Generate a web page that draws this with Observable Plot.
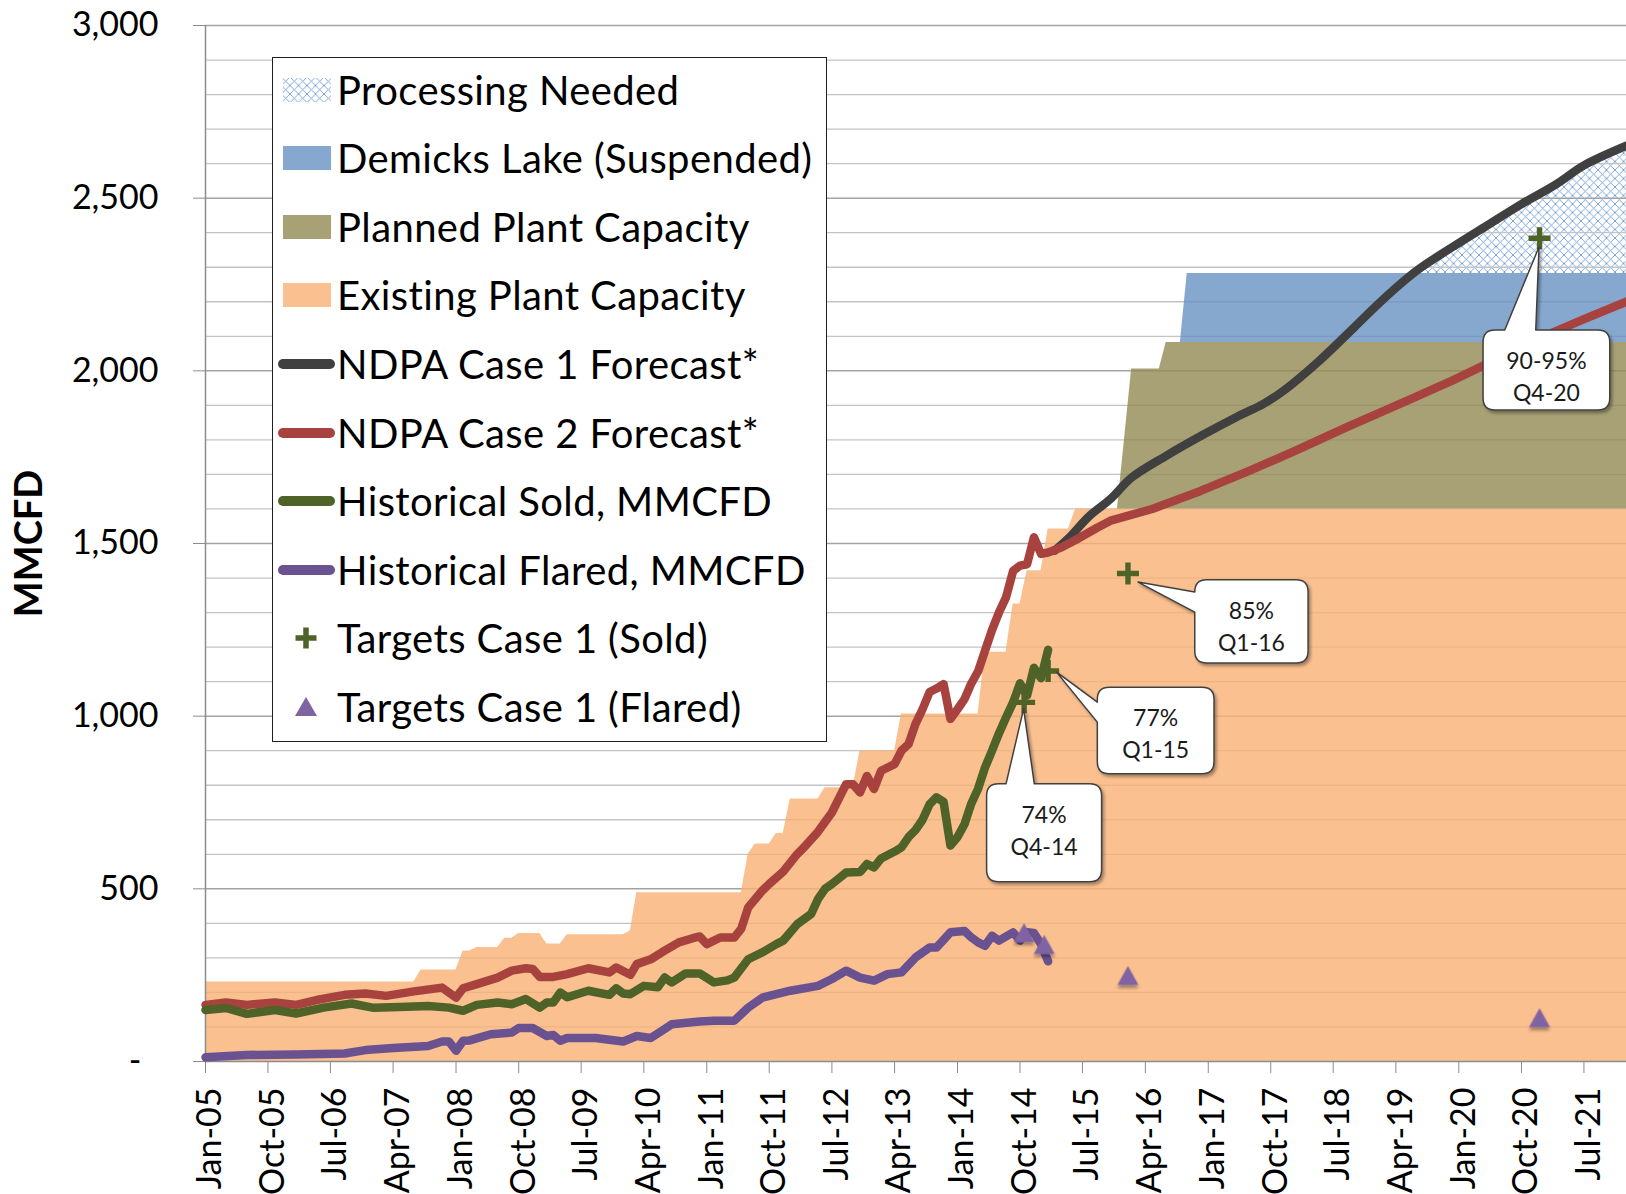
<!DOCTYPE html>
<html>
<head>
<meta charset="utf-8">
<script src="https://cdn.jsdelivr.net/npm/d3@7"></script>
<script src="https://cdn.jsdelivr.net/npm/@observablehq/plot@0.6"></script>
<style>
  html, body { margin: 0; padding: 0; background: #fff; }
  #wrap { position: relative; width: 1626px; height: 1194px; overflow: hidden; font-family: Lato, "Open Sans", sans-serif; }
  #wrap > svg { position: absolute; left: 0; top: 0; }
  #legend { position: absolute; left: 272px; top: 57px; width: 555px; height: 685px; box-sizing: border-box; border: 1.5px solid #1f1f1f; background: #fff; }
  .lrow { position: absolute; left: 0; width: 550px; height: 60px; }
  .lrow svg { position: absolute; left: 0; top: 0; }
  .lrow span { position: absolute; left: 64px; top: 0; white-space: nowrap; font-size: 40px; letter-spacing: 0.4px; color: #000; line-height: 60px; }
</style>
</head>
<body>
<div id="wrap"></div>
<script>
// ---------------- DATA ----------------
// NDPA Case 2 (history of total gas + Case 2 forecast), MMCFD
const case2Forecast = [
  ["2005-01",164],["2005-04",171],["2005-07",164],["2005-11",171],["2006-02",164],["2006-05",178],
  ["2006-09",193],["2006-12",197],["2007-03",190],["2007-07",203],["2007-11",214],["2008-01",185],
  ["2008-02",212],["2008-04",224],["2008-07",243],["2008-09",263],["2008-11",270],["2008-12",268],
  ["2009-01",245],["2009-03",245],["2009-05",253],["2009-08",270],["2009-11",258],["2009-12",272],
  ["2010-02",251],["2010-03",282],["2010-05",296],["2010-07",321],["2010-09",345],["2010-11",357],
  ["2010-12",362],["2011-01",340],["2011-03",359],["2011-05",359],["2011-06",385],["2011-07",446],
  ["2011-09",495],["2011-10",514],["2011-12",550],["2012-02",601],["2012-03",620],["2012-05",665],
  ["2012-07",721],["2012-09",803],["2012-10",803],["2012-11",779],["2012-12",827],["2013-01",789],
  ["2013-02",842],["2013-04",861],["2013-05",900],["2013-06",919],["2013-07",977],["2013-08",1020],
  ["2013-09",1070],["2013-10",1080],["2013-11",1093],["2013-12",992],["2014-01",1020],["2014-02",1050],
  ["2014-03",1093],["2014-04",1130],["2014-05",1189],["2014-06",1250],["2014-07",1300],["2014-08",1344],
  ["2014-09",1421],["2014-10",1436],["2014-11",1440],["2014-12",1518],["2015-01",1470],["2015-02",1474],
  ["2015-04",1489],["2015-06",1510],["2015-09",1545],["2015-11",1566],["2016-05",1600],["2016-12",1653],
  ["2017-07",1711],["2018-02",1773],["2018-09",1838],["2019-05",1908],["2019-12",1971],["2020-07",2039],
  ["2021-02",2107],["2021-07",2150],["2022-02",2208]
];
// NDPA Case 1 forecast, MMCFD
const case1Forecast = [
  ["2015-03",1479],["2015-05",1515],["2015-08",1580],["2015-11",1629],["2016-02",1691],["2016-07",1754],
  ["2016-12",1812],["2017-05",1865],["2017-09",1905],["2017-12",1945],["2018-05",2029],["2018-10",2126],
  ["2019-02",2205],["2019-07",2290],["2019-12",2357],["2020-05",2420],["2020-10",2483],["2021-03",2540],
  ["2021-07",2595],["2022-02",2660]
];
// Historical sold, MMCFD
const historicalSold = [
  ["2005-01",149],["2005-04",155],["2005-07",138],["2005-11",149],["2006-02",139],["2006-06",156],
  ["2006-10",168],["2007-01",156],["2007-05",158],["2007-09",161],["2007-12",156],["2008-02",147],
  ["2008-04",164],["2008-07",171],["2008-09",166],["2008-11",181],["2009-01",156],["2009-02",171],
  ["2009-03",171],["2009-04",200],["2009-05",186],["2009-08",205],["2009-11",193],["2009-12",212],
  ["2010-01",197],["2010-02",195],["2010-04",219],["2010-06",215],["2010-07",243],["2010-08",229],
  ["2010-10",255],["2010-12",255],["2011-02",229],["2011-04",235],["2011-05",243],["2011-07",296],
  ["2011-09",316],["2011-11",340],["2011-12",350],["2012-02",398],["2012-04",427],["2012-05",470],
  ["2012-06",500],["2012-07",514],["2012-09",547],["2012-11",549],["2012-12",572],["2013-01",562],
  ["2013-02",588],["2013-04",608],["2013-05",620],["2013-06",650],["2013-07",670],["2013-08",700],
  ["2013-09",745],["2013-10",765],["2013-11",752],["2013-12",625],["2014-01",650],["2014-02",688],
  ["2014-03",745],["2014-04",790],["2014-05",851],["2014-06",900],["2014-07",950],["2014-08",996],
  ["2014-09",1040],["2014-10",1095],["2014-11",1060],["2014-12",1140],["2015-01",1110],["2015-02",1192]
];
// Historical flared, MMCFD
const historicalFlared = [
  ["2005-01",12],["2005-07",19],["2006-02",20],["2006-09",23],["2006-12",33],["2007-04",39],
  ["2007-09",45],["2007-11",58],["2007-12",58],["2008-01",31],["2008-02",60],["2008-03",61],
  ["2008-06",79],["2008-09",84],["2008-10",97],["2008-12",97],["2009-02",74],["2009-03",77],
  ["2009-04",60],["2009-05",68],["2009-09",68],["2010-01",58],["2010-03",74],["2010-05",68],
  ["2010-07",94],["2010-08",108],["2010-12",116],["2011-02",118],["2011-05",118],["2011-07",156],
  ["2011-09",185],["2012-01",205],["2012-05",219],["2012-07",239],["2012-09",263],["2012-11",243],
  ["2013-01",234],["2013-03",253],["2013-05",258],["2013-07",301],["2013-09",330],["2013-10",330],
  ["2013-12",374],["2014-02",378],["2014-03",360],["2014-04",345],["2014-05",335],["2014-06",364],
  ["2014-07",350],["2014-09",374],["2014-10",350],["2014-11",374],["2014-12",372],["2015-01",340],
  ["2015-02",290]
];
// Plant capacity (stacked areas), MMCFD
const capacityMonths = ["2005-01","2007-07","2007-08","2008-01","2008-02","2008-03","2008-04","2008-07","2008-08",
  "2008-09","2008-10","2009-01","2009-02","2009-04","2009-05","2010-01","2010-02","2010-03","2011-06","2011-07",
  "2011-08","2011-10","2011-11","2011-12","2012-01","2012-05","2012-06","2012-10","2012-11","2013-04","2013-05",
  "2014-04","2014-05","2014-08","2014-09","2014-10","2014-11","2015-01","2015-02","2015-05","2015-06","2015-12",
  "2016-02","2016-06","2016-07","2016-09","2016-10","2022-02"];
const existingCapacity = [230,230,265,265,320,320,330,330,357,357,371,371,340,340,367,367,378,489,489,600,
  630,630,660,660,760,760,793,793,900,900,1006,1006,1185,1185,1325,1325,1421,1421,1542,1542,1600,1600,
  1600,1600,1600,1600,1600,1600];
const plannedCapacity = [0,0,0,0,0,0,0,0,0,0,0,0,0,0,0,0,0,0,0,0,0,0,0,0,0,0,0,0,0,0,0,0,0,0,0,0,0,0,0,0,0,0,
  405,405,482,482,482,482];
const demicksCapacity = [0,0,0,0,0,0,0,0,0,0,0,0,0,0,0,0,0,0,0,0,0,0,0,0,0,0,0,0,0,0,0,0,0,0,0,0,0,0,0,0,0,0,
  0,0,0,0,200,200];
// Targets (Case 1)
const soldTargetDates = ["2014-10-19","2015-02-01","2016-01-16","2020-12-19"];
const soldTargetValues = [1040,1131,1413,2384];
const flaredTargetDates = ["2014-10-19","2015-01-15","2016-01-16","2020-12-19"];
const flaredTargetValues = [364,330,240,118];
const calloutLines = [["74%","Q4-14"],["77%","Q1-15"],["85%","Q1-16"],["90-95%","Q4-20"]];
// Axes
const xTickLabels = ["Jan-05","Oct-05","Jul-06","Apr-07","Jan-08","Oct-08","Jul-09","Apr-10","Jan-11","Oct-11",
  "Jul-12","Apr-13","Jan-14","Oct-14","Jul-15","Apr-16","Jan-17","Oct-17","Jul-18","Apr-19","Jan-20","Oct-20","Jul-21"];
const yTickValues = [0,500,1000,1500,2000,2500,3000];
const yTickLabels = ["-\u2002","500","1,000","1,500","2,000","2,500","3,000"];
const yMinorGrid = [100,200,300,400,600,700,800,900,1100,1200,1300,1400,1600,1700,1800,1900,2100,2200,2300,2400,2600,2700,2800,2900];
const yAxisTitle = "MMCFD";
const legendLabels = ["Processing Needed","Demicks Lake (Suspended)","Planned Plant Capacity","Existing Plant Capacity",
  "NDPA Case 1 Forecast*","NDPA Case 2 Forecast*","Historical Sold, MMCFD","Historical Flared, MMCFD",
  "Targets Case 1 (Sold)","Targets Case 1 (Flared)"];

// ---------------- STYLE ----------------
const C = {
  orange: "#f9b074", olive: "#918952", blue: "#6892c3", areaOpacity: 0.8,
  case1: "#404040", case2: "#a8423e", sold: "#4f6228", flared: "#6a5190", flaredTarget: "#8064a2",
  hatch: "#6f9ad6", axis: "#8c8c8c", hatchSentinel: "#fffffe"
};
// callout placement (pixel offsets relative to the target point)
const calloutLayout = [
  {side: "top",  box: [-37, 82, 115, 98],     base: [-17.6, 10.7], tip: [0, 7]},
  {side: "left", box: [49.7, 16.7, 116.7, 86.6], base: [31.7, 51.7], tip: [9, 1.7]},
  {side: "left", box: [67.3, 6.6, 113.3, 83.4],  base: [19, 39],     tip: [10.6, 9]},
  {side: "top",  box: [-56, 92.3, 126.7, 80],  base: [-34.3, -3.3], tip: [0, 9]}
];
// custom marker shapes
const plusSymbol = {draw(ctx) {
  const a = 11, t = 2.7;
  ctx.moveTo(-a, -t); ctx.lineTo(-t, -t); ctx.lineTo(-t, -a); ctx.lineTo(t, -a); ctx.lineTo(t, -t); ctx.lineTo(a, -t);
  ctx.lineTo(a, t); ctx.lineTo(t, t); ctx.lineTo(t, a); ctx.lineTo(-t, a); ctx.lineTo(-t, t); ctx.lineTo(-a, t); ctx.closePath();
}};
const triSymbol = {draw(ctx) {
  ctx.moveTo(0, -12.5); ctx.lineTo(10.5, 6.5); ctx.lineTo(-10.5, 6.5); ctx.closePath();
}};

// ---------------- BUILD ----------------
const parseDate = s => { const p = s.split("-").map(Number); return new Date(Date.UTC(p[0], p[1] - 1, p[2] || 1)); };
const rows = pairs => pairs.map(([d, v]) => ({date: parseDate(d), value: v}));
const case2Rows = rows(case2Forecast), case1Rows = rows(case1Forecast);
const soldRows = rows(historicalSold), flaredRows = rows(historicalFlared);
const capRows = capacityMonths.map((d, i) => ({
  date: parseDate(d), existing: existingCapacity[i],
  planned: existingCapacity[i] + plannedCapacity[i],
  total: existingCapacity[i] + plannedCapacity[i] + demicksCapacity[i]
}));
const demicksStart = capRows.find(r => r.total > r.planned).date;
const demicksTop = capRows[capRows.length - 1].total;
const hatchRows = case1Rows.filter(r => r.date >= demicksStart).map(r => ({date: r.date, base: demicksTop, value: r.value}));
const soldTargets = soldTargetDates.map((d, i) => ({date: parseDate(d), value: soldTargetValues[i]}));
const flaredTargets = flaredTargetDates.map((d, i) => ({date: parseDate(d), value: flaredTargetValues[i]}));
const monthIdx = {Jan:0,Feb:1,Mar:2,Apr:3,May:4,Jun:5,Jul:6,Aug:7,Sep:8,Oct:9,Nov:10,Dec:11};
const xTickDates = xTickLabels.map(s => { const [m, y] = s.split("-"); return new Date(Date.UTC(2000 + +y, monthIdx[m], 1)); });
const xLabelMap = new Map(xTickDates.map((d, i) => [+d, xTickLabels[i]]));
const yLabelMap = new Map(yTickValues.map((v, i) => [v, yTickLabels[i]]));

const xDomain = [parseDate("2005-01"), parseDate("2022-01-03")];
const W = 1626, H = 1194, ML = 205, MR = 0, MT = 25, MB = 133;
const fallbackX = d3.scaleUtc(xDomain, [ML, W - MR]);
const fallbackY = d3.scaleLinear([0, 3000], [H - MB, MT]);

function calloutsMark(index, scales) {
  const sx = scales && typeof scales.x === "function" ? scales.x : fallbackX;
  const sy = scales && typeof scales.y === "function" ? scales.y : fallbackY;
  const g = d3.create("svg:g").attr("aria-label", "callouts");
  soldTargets.forEach((t, i) => {
    const L = calloutLayout[i];
    const px = sx(t.date), py = sy(t.value);
    const x0 = px + L.box[0], y0 = py + L.box[1], x1 = x0 + L.box[2], y1 = y0 + L.box[3];
    const tx = px + L.tip[0], ty = py + L.tip[1], r = 12;
    let d;
    if (L.side === "top") {
      const b0 = px + L.base[0], b1 = px + L.base[1];
      d = `M${x0 + r},${y0}L${b0},${y0}L${tx},${ty}L${b1},${y0}L${x1 - r},${y0}Q${x1},${y0} ${x1},${y0 + r}L${x1},${y1 - r}Q${x1},${y1} ${x1 - r},${y1}L${x0 + r},${y1}Q${x0},${y1} ${x0},${y1 - r}L${x0},${y0 + r}Q${x0},${y0} ${x0 + r},${y0}Z`;
    } else {
      const b0 = py + L.base[0], b1 = py + L.base[1];
      d = `M${x0 + r},${y0}L${x1 - r},${y0}Q${x1},${y0} ${x1},${y0 + r}L${x1},${y1 - r}Q${x1},${y1} ${x1 - r},${y1}L${x0 + r},${y1}Q${x0},${y1} ${x0},${y1 - r}L${x0},${b1}L${tx},${ty}L${x0},${b0}L${x0},${y0 + r}Q${x0},${y0} ${x0 + r},${y0}Z`;
    }
    g.append("path").attr("d", d).attr("fill", "#fff").attr("stroke", "#404040")
      .attr("stroke-width", 1.5).attr("stroke-linejoin", "round").attr("filter", "url(#calloutShadow)");
    const cx = (x0 + x1) / 2;
    calloutLines[i].forEach((line, k) => g.append("text").attr("x", cx).attr("y", y0 + 31 + 32 * k)
      .attr("dy", "0.36em").attr("text-anchor", "middle").attr("font-size", 23).attr("fill", "#1a1a1a").text(line));
  });
  return g.node();
}

const lineOpts = (stroke, w, curve = "linear") => ({x: "date", y: "value", stroke, strokeWidth: w, curve, strokeLinecap: "round", strokeLinejoin: "round"});

const chart = Plot.plot({
  width: W, height: H,
  marginLeft: ML, marginRight: MR, marginTop: MT, marginBottom: MB,
  style: "font-family: Lato, 'Open Sans', sans-serif; font-size: 34px; background: transparent;",
  x: {type: "utc", domain: xDomain, label: null},
  y: {domain: [0, 3000], label: null},
  marks: [
    // processing needed (hatched) above the total capacity, masked below it by an opaque white band
    Plot.areaY(hatchRows, {x: "date", y1: "base", y2: "value", fill: C.hatchSentinel, curve: "catmull-rom"}),
    Plot.areaY(capRows, {x: "date", y1: 0, y2: "total", fill: "#ffffff"}),
    Plot.ruleY(yMinorGrid, {stroke: "#c4c4c4", strokeWidth: 1.3}),
    Plot.ruleY(yTickValues.slice(1), {stroke: "#a3a3a3", strokeWidth: 1.5}),
    Plot.areaY(capRows, {x: "date", y1: 0, y2: "existing", fill: C.orange, fillOpacity: C.areaOpacity}),
    Plot.areaY(capRows, {x: "date", y1: "existing", y2: "planned", fill: C.olive, fillOpacity: C.areaOpacity}),
    Plot.areaY(capRows, {x: "date", y1: "planned", y2: "total", fill: C.blue, fillOpacity: C.areaOpacity}),
    Plot.ruleX([xDomain[0]], {stroke: C.axis, strokeWidth: 1.5}),
    Plot.ruleY([0], {stroke: C.axis, strokeWidth: 1.5}),
    Plot.axisY({ticks: yTickValues, tickSize: 12, tickPadding: 35, tickFormat: v => yLabelMap.get(v),
      stroke: C.axis, fill: "#000", fontSize: 34, label: null}),
    Plot.axisX({ticks: xTickDates, tickSize: 12, tickPadding: 14, tickRotate: -90,
      tickFormat: d => xLabelMap.get(+d), stroke: C.axis, fill: "#000", fontSize: 34, label: null}),
    Plot.text([yAxisTitle], {text: d => d, frameAnchor: "left", textAnchor: "middle", dx: -176, rotate: -90,
      fontWeight: "bold", fontSize: 38, fill: "#000"}),
    Plot.line(case1Rows, lineOpts(C.case1, 8.5, "catmull-rom")),
    Plot.line(case2Rows, lineOpts(C.case2, 8.5)),
    Plot.line(soldRows, lineOpts(C.sold, 8.5)),
    Plot.line(flaredRows, lineOpts(C.flared, 8.5)),
    Plot.dot(soldTargets, {x: "date", y: "value", symbol: plusSymbol, fill: C.sold, stroke: "none"}),
    Plot.dot(flaredTargets, {x: "date", y: "value", symbol: triSymbol, fill: C.flaredTarget, stroke: "none"}),
    calloutsMark
  ]
});

const svg = d3.select(chart);
svg.insert("defs", ":first-child").html(`
  <pattern id="hatchPN" patternUnits="userSpaceOnUse" width="8.5" height="8.5">
    <rect width="8.5" height="8.5" fill="#ffffff"/>
    <path d="M-1,-1L9.5,9.5M9.5,-1L-1,9.5" stroke="${C.hatch}" stroke-width="0.9" fill="none"/>
  </pattern>
  <filter id="calloutShadow" x="-20%" y="-20%" width="150%" height="150%">
    <feDropShadow dx="2" dy="2.5" stdDeviation="1.8" flood-color="#000" flood-opacity="0.35"/>
  </filter>
  <filter id="markShadow" x="-50%" y="-50%" width="200%" height="220%">
    <feDropShadow dx="0" dy="3" stdDeviation="1.8" flood-color="#000" flood-opacity="0.35"/>
  </filter>`);
svg.selectAll(`[fill="${C.hatchSentinel}"]`).attr("fill", "url(#hatchPN)");
svg.selectAll(`g[fill="${C.flaredTarget}"]`).attr("filter", "url(#markShadow)");
svg.selectAll('g[aria-label="x-axis tick label"]').each(function () {
  const t = this.getAttribute("transform") || "";
  this.setAttribute("transform", (t + " translate(5,0)").trim());
});

const wrap = document.getElementById("wrap");
wrap.appendChild(chart);

// ---------------- LEGEND ----------------
const legendKinds = [
  {kind: "hatch"}, {kind: "area", color: C.blue}, {kind: "area", color: C.olive}, {kind: "area", color: C.orange},
  {kind: "line", color: C.case1}, {kind: "line", color: C.case2}, {kind: "line", color: C.sold}, {kind: "line", color: C.flared},
  {kind: "plus", color: C.sold}, {kind: "tri", color: C.flaredTarget}
];
const legend = document.createElement("div");
legend.id = "legend";
legendLabels.forEach((label, i) => {
  const row = document.createElement("div");
  row.className = "lrow";
  row.style.top = (31.5 + 68.6 * i - 30) + "px";
  const k = legendKinds[i];
  let sw = "";
  if (k.kind === "hatch") {
    sw = `<defs><pattern id="hatchLeg" patternUnits="userSpaceOnUse" width="8.5" height="8.5"><rect width="8.5" height="8.5" fill="#fff"/><path d="M-1,-1L9.5,9.5M9.5,-1L-1,9.5" stroke="${C.hatch}" stroke-width="0.9"/></pattern></defs><rect x="10" y="18" width="48" height="24" fill="url(#hatchLeg)"/>`;
  } else if (k.kind === "area") {
    sw = `<rect x="10" y="18" width="48" height="24" fill="${k.color}" fill-opacity="${C.areaOpacity}"/>`;
  } else if (k.kind === "line") {
    sw = `<line x1="10" y1="30" x2="57" y2="30" stroke="${k.color}" stroke-width="10" stroke-linecap="round"/>`;
  } else if (k.kind === "plus") {
    sw = `<path d="M22.5,30H43.5M33,19.5V40.5" stroke="${k.color}" stroke-width="5.5"/>`;
  } else {
    sw = `<path d="M33,20L44,39H22Z" fill="${k.color}"/>`;
  }
  row.innerHTML = `<svg width="70" height="60">${sw}</svg><span>${label}</span>`;
  legend.appendChild(row);
});
wrap.appendChild(legend);
</script>
</body>
</html>
